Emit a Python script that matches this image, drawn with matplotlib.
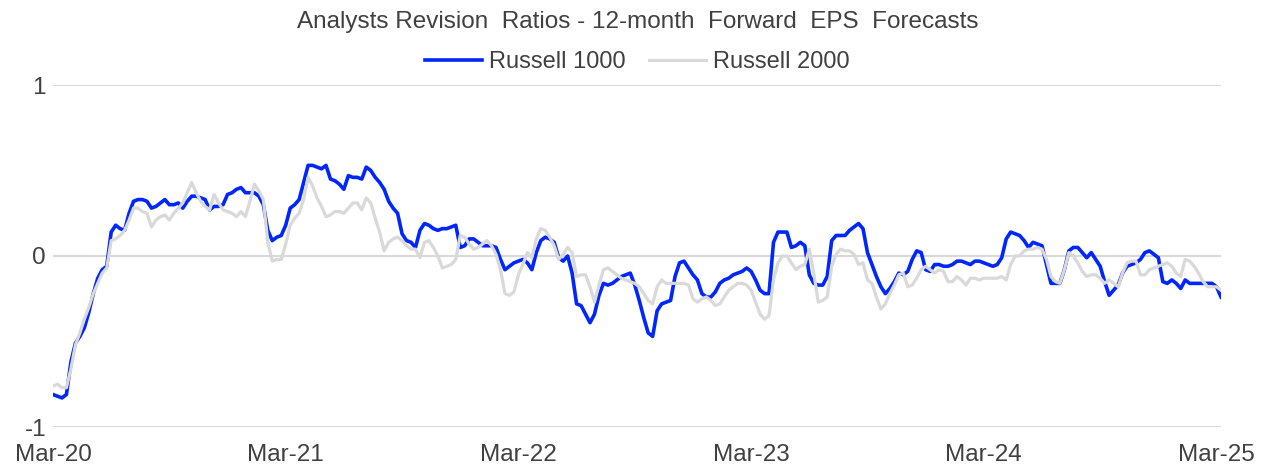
import matplotlib
matplotlib.use("Agg")
import matplotlib.pyplot as plt
import pandas as pd

plt.rcParams['font.family'] = ['Liberation Sans', 'DejaVu Sans']

# weekly observations, Mar-2020 .. Mar-2025
dates = pd.date_range('2020-03-08', periods=262, freq='W-SUN')

russell_1000 = [
    -0.81, -0.82, -0.83, -0.81, -0.62, -0.51, -0.47, -0.42, -0.33, -0.22,
    -0.13, -0.08, -0.06, 0.14, 0.18, 0.16, 0.15, 0.25, 0.32, 0.33,
    0.33, 0.32, 0.28, 0.29, 0.31, 0.33, 0.30, 0.30, 0.31, 0.28,
    0.32, 0.35, 0.35, 0.34, 0.33, 0.27, 0.29, 0.29, 0.30, 0.36,
    0.37, 0.39, 0.40, 0.37, 0.37, 0.37, 0.35, 0.30, 0.15, 0.09,
    0.11, 0.12, 0.18, 0.28, 0.30, 0.33, 0.43, 0.53, 0.53, 0.52,
    0.51, 0.53, 0.45, 0.44, 0.42, 0.39, 0.47, 0.46, 0.46, 0.45,
    0.52, 0.50, 0.46, 0.43, 0.39, 0.32, 0.28, 0.25, 0.13, 0.09,
    0.08, 0.05, 0.15, 0.19, 0.18, 0.16, 0.15, 0.16, 0.16, 0.17,
    0.18, 0.05, 0.06, 0.10, 0.10, 0.08, 0.06, 0.06, 0.06, 0.05,
    -0.02, -0.08, -0.06, -0.04, -0.03, -0.02, -0.04, -0.08, 0.02, 0.09,
    0.11, 0.10, 0.08, -0.01, -0.03, 0.00, -0.10, -0.28, -0.29, -0.34,
    -0.39, -0.34, -0.23, -0.16, -0.17, -0.16, -0.14, -0.12, -0.11, -0.10,
    -0.17, -0.26, -0.36, -0.45, -0.47, -0.32, -0.28, -0.27, -0.26, -0.12,
    -0.04, -0.03, -0.07, -0.11, -0.14, -0.22, -0.24, -0.24, -0.21, -0.16,
    -0.14, -0.13, -0.11, -0.10, -0.09, -0.07, -0.09, -0.14, -0.20, -0.22,
    -0.22, 0.08, 0.14, 0.14, 0.14, 0.05, 0.06, 0.08, 0.06, -0.11,
    -0.16, -0.17, -0.17, -0.12, 0.09, 0.12, 0.12, 0.12, 0.15, 0.17,
    0.19, 0.16, 0.02, -0.05, -0.12, -0.18, -0.22, -0.19, -0.15, -0.10,
    -0.11, -0.09, -0.02, 0.03, 0.02, -0.08, -0.09, -0.05, -0.05, -0.06,
    -0.06, -0.05, -0.03, -0.03, -0.04, -0.05, -0.03, -0.03, -0.04, -0.05,
    -0.06, -0.05, -0.01, 0.10, 0.14, 0.13, 0.12, 0.09, 0.05, 0.08,
    0.07, 0.06, -0.05, -0.16, -0.16, -0.16, -0.08, 0.03, 0.05, 0.05,
    0.02, -0.01, 0.02, -0.02, -0.06, -0.15, -0.23, -0.20, -0.17, -0.10,
    -0.06, -0.05, -0.04, -0.02, 0.02, 0.03, 0.01, -0.01, -0.15, -0.16,
    -0.14, -0.16, -0.19, -0.14, -0.16, -0.16, -0.16, -0.16, -0.16, -0.16,
    -0.18, -0.24,
]

russell_2000 = [
    -0.76, -0.75, -0.77, -0.77, -0.66, -0.52, -0.45, -0.37, -0.30, -0.22,
    -0.16, -0.10, -0.07, 0.09, 0.10, 0.12, 0.15, 0.21, 0.28, 0.28,
    0.26, 0.25, 0.17, 0.21, 0.23, 0.24, 0.21, 0.25, 0.28, 0.31,
    0.37, 0.43, 0.37, 0.32, 0.29, 0.27, 0.36, 0.31, 0.27, 0.26,
    0.25, 0.23, 0.26, 0.23, 0.32, 0.42, 0.38, 0.33, 0.08, -0.03,
    -0.02, -0.02, 0.07, 0.18, 0.22, 0.25, 0.33, 0.46, 0.41, 0.34,
    0.29, 0.23, 0.24, 0.26, 0.26, 0.25, 0.28, 0.31, 0.31, 0.27,
    0.34, 0.31, 0.22, 0.14, 0.03, 0.08, 0.10, 0.11, 0.09, 0.06,
    0.04, 0.04, -0.01, 0.08, 0.09, 0.05, 0.00, -0.07, -0.06, -0.05,
    -0.02, 0.12, 0.11, 0.07, 0.04, 0.05, 0.07, 0.09, 0.06, 0.01,
    -0.08, -0.22, -0.23, -0.21, -0.11, -0.05, 0.02, -0.01, 0.10, 0.16,
    0.15, 0.11, 0.06, -0.02, 0.01, 0.05, 0.02, -0.12, -0.11, -0.11,
    -0.18, -0.27, -0.17, -0.08, -0.07, -0.09, -0.11, -0.13, -0.14, -0.15,
    -0.16, -0.18, -0.22, -0.26, -0.28, -0.18, -0.14, -0.16, -0.16, -0.16,
    -0.16, -0.16, -0.17, -0.25, -0.27, -0.25, -0.24, -0.26, -0.29, -0.28,
    -0.24, -0.20, -0.18, -0.16, -0.16, -0.17, -0.20, -0.27, -0.34, -0.37,
    -0.35, -0.14, -0.04, 0.00, 0.00, -0.04, -0.08, -0.06, -0.05, 0.04,
    -0.10, -0.27, -0.26, -0.24, -0.06, 0.01, 0.04, 0.03, 0.03, 0.01,
    -0.05, -0.04, -0.14, -0.16, -0.24, -0.31, -0.28, -0.22, -0.17, -0.11,
    -0.10, -0.18, -0.17, -0.13, -0.08, -0.06, -0.08, -0.10, -0.08, -0.09,
    -0.15, -0.15, -0.12, -0.14, -0.17, -0.13, -0.13, -0.14, -0.13, -0.13,
    -0.13, -0.13, -0.12, -0.14, -0.05, 0.00, 0.00, 0.03, 0.04, 0.04,
    0.05, 0.04, -0.02, -0.12, -0.15, -0.16, -0.08, 0.02, 0.00, -0.04,
    -0.09, -0.12, -0.11, -0.11, -0.13, -0.16, -0.14, -0.16, -0.18, -0.10,
    -0.04, -0.03, -0.03, -0.11, -0.11, -0.08, -0.07, -0.06, -0.05, -0.04,
    -0.06, -0.10, -0.12, -0.02, -0.03, -0.06, -0.10, -0.15, -0.18, -0.18,
    -0.18, -0.20,
]

y_ticks = [-1, 0, 1]
title = 'Analysts Revision  Ratios - 12-month  Forward  EPS  Forecasts'

text_col = '#404040'
fig = plt.figure(figsize=(12.75, 4.67), dpi=100)
ax = fig.add_axes([53 / 1275, 1 - 427 / 467, (1221 - 53) / 1275, (427 - 85) / 467])

ax.plot(dates, russell_1000, color='#0026ff', lw=2.6, label='Russell 1000', solid_joinstyle='round')
ax.plot(dates, russell_2000, color='#d9d9d9', lw=2.3, label='Russell 2000', solid_joinstyle='round')

ax.set_xlim(dates[0], dates[-1])
ax.set_ylim(-1, 1)
ax.set_yticks(y_ticks)
ax.set_yticklabels([str(t) for t in y_ticks])
ax.set_xticks(dates[::52])
ax.set_xticklabels([d.strftime('%b-%y') for d in dates[::52]])
ax.grid(axis='y', color='#d9d9d9', lw=1.5)
ax.set_axisbelow(True)
for s in ax.spines.values():
    s.set_visible(False)
ax.tick_params(axis='both', length=0, labelsize=17.5, colors=text_col)
ax.tick_params(axis='x', pad=12)
ax.tick_params(axis='y', pad=5)

fig.text(0.5, 1 - 22 / 467, title, ha='center', va='center', fontsize=17.5, color=text_col)
fig.legend(loc='center', bbox_to_anchor=(0.5, 1 - 62 / 467), ncol=2, frameon=False,
           fontsize=17, handlelength=2.4, handletextpad=0.3, columnspacing=1.0,
           labelcolor=text_col)

fig.savefig('out.png', dpi=100)
